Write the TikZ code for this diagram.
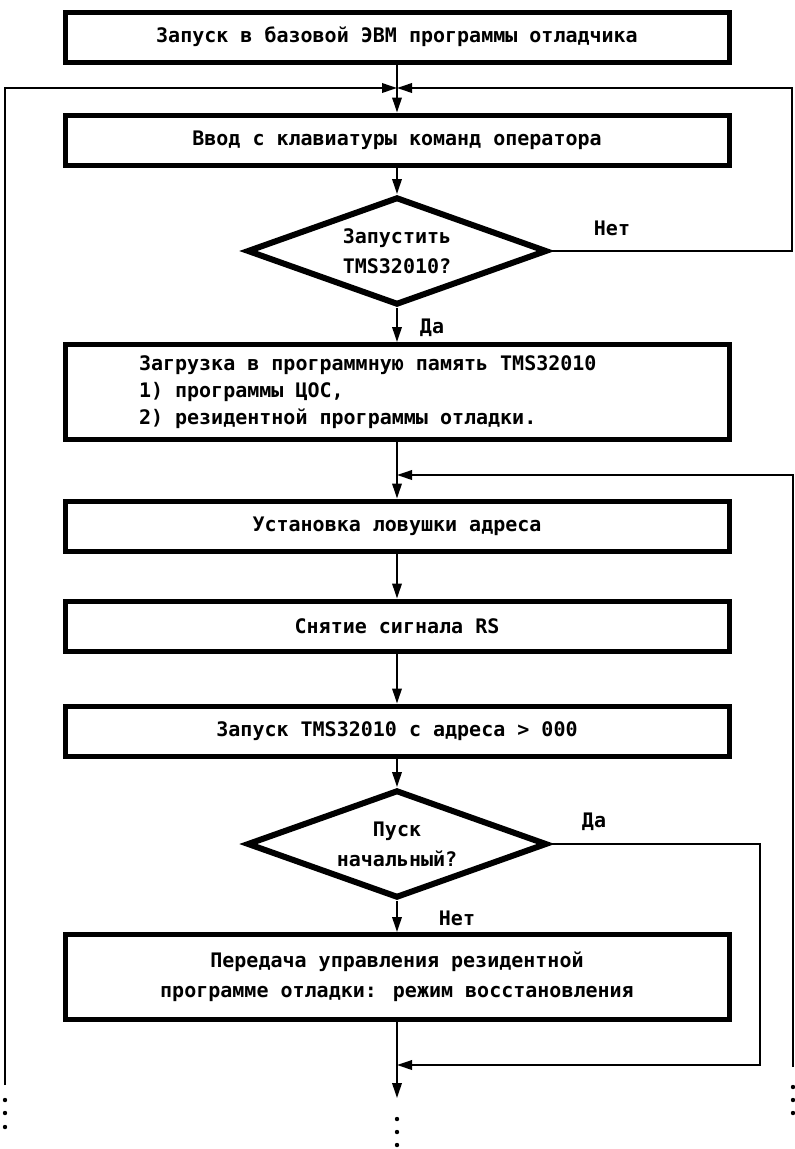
\documentclass[tikz,border=0pt]{standalone}
\usepackage{fontspec}
\setmainfont{DejaVu Sans Mono}
\usetikzlibrary{positioning,shapes.geometric,arrows.meta}
\newcommand{\ravnprobel}{\spaceskip=12.04pt\relax}

\begin{document}
\begin{tikzpicture}[x=1pt,y=-1pt,
    font=\fontsize{20}{30}\selectfont\bfseries,
    blok/.style={draw,line width=5pt,minimum width=664pt,minimum height=50pt,inner sep=0pt},
    romb/.style={draw,diamond,aspect=2.8,line width=6pt,minimum width=300pt,minimum height=108pt,inner sep=0pt,align=center},
    lin/.style={line width=1.9pt,-{Triangle[length=15pt,width=9.5pt]}},
    metka/.style={inner sep=0pt}]
    \useasboundingbox (0,0) rectangle (795,1149);
    % single-line boxes
    \foreach \nm/\y/\txt in {
      b1/37/{Запуск в базовой ЭВМ программы отладчика},
      b2/140/{Ввод с клавиатуры команд оператора},
      b4/526/{Установка ловушки адреса},
      b5/626/{Снятие сигнала RS},
      b6/731/{Запуск TMS32010 с адреса > 000}}
    {
      \node[blok] (\nm) at (397,\y) {\txt};
    }
    \node[blok,minimum height=95pt,text width=516pt,inner xsep=74pt,align=left,
      font=\fontsize{20}{27}\selectfont\bfseries] (b3) at (397,392)
      {\ravnprobel Загрузка в программную память TMS32010\\1) программы ЦОС,\\2) резидентной программы отладки.};
    \node[blok,minimum height=85pt,align=center] (b7) at (397,977)
      {Передача управления резидентной\\программе отладки: режим восстановления};
    \node[romb] (d1) at (397,251) {Запустить\\TMS32010?};
    \node[romb] (d2) at (397,844) {Пуск\\начальный?};

    \node[metka] (net1) at (612,228) {Нет};
    \node[metka] (da1) at (432,328) {Да};
    \node[metka] (da2) at (594,822) {Да};
    \node[metka] (net2) at (457,918) {Нет};

    % junction points
    \coordinate (uzel1) at (397,88);
    \coordinate (uzel2) at (397,475);
    \coordinate (uzel3) at (397,1065);
    \coordinate (ne) at (792,88);
    \coordinate (se) at (760,1065);
    \coordinate (lniz) at (5,1085);
    \coordinate (rniz) at (793,1067);
    \coordinate (cniz) at (397,1098);

    \draw[lin] (b1) -- (b2);
    \draw[lin] (b2) -- (d1);
    \draw[lin] (d1) -- (b3);
    \draw[lin] (b3) -- (b4);
    \draw[lin] (b4) -- (b5);
    \draw[lin] (b5) -- (b6);
    \draw[lin] (b6) -- (d2);
    \draw[lin] (d2) -- (b7);
    \draw[lin] (b7) -- (cniz);

    \draw[lin] (d1.east) -| (ne) -- (uzel1);
    \draw[lin] (lniz) |- (uzel1);
    \draw[lin] (rniz) |- (uzel2);
    \draw[lin] (d2.east) -| (se) -- (uzel3);

    \foreach \y in {1100,1113,1127} \fill (5,\y) circle (2.2pt);
    \foreach \y in {1087,1100,1113} \fill (793,\y) circle (2.2pt);
    \foreach \y in {1119,1132,1145} \fill (397,\y) circle (2.2pt);
  \end{tikzpicture}
\end{document}
